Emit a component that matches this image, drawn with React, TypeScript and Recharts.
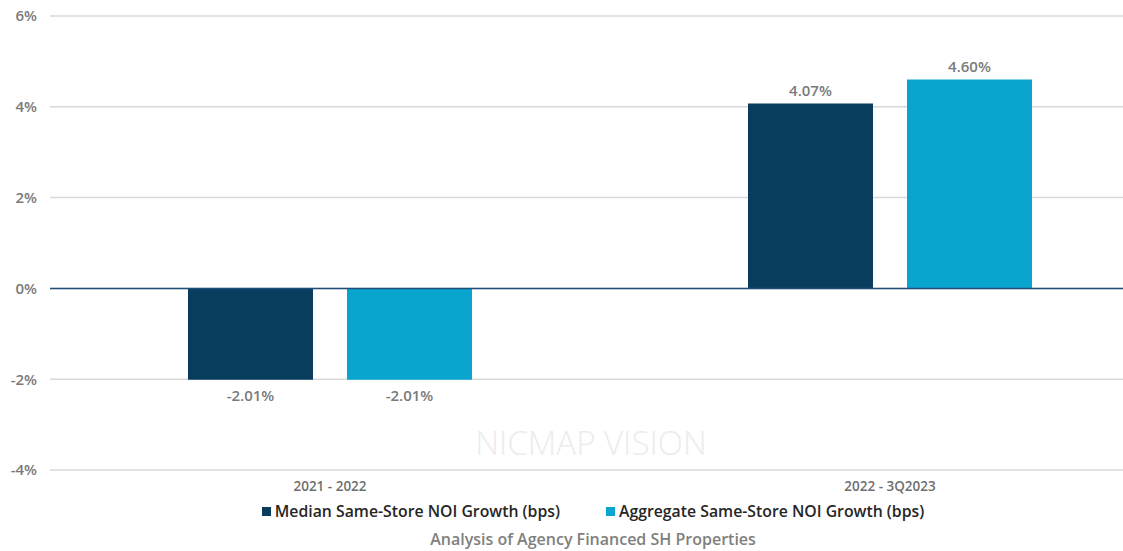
import React from 'react';
import { BarChart, Bar, XAxis, YAxis, CartesianGrid, ReferenceLine, LabelList } from 'recharts';

// periods on the x axis
const periods = ['2021 - 2022', '2022 - 3Q2023'];
// NOI growth in percent
const medianGrowth = [-2.01, 4.07];
const aggregateGrowth = [-2.01, 4.6];
const yTicks = [-4, -2, 0, 2, 4, 6];

const seriesNames = ['Median Same-Store NOI Growth (bps)', 'Aggregate Same-Store NOI Growth (bps)'];
const DARK = '#083D5E';
const LIGHT = '#0AA5CF';
const FONT = '"Open Sans", "Noto Sans", sans-serif';

const data = periods.map((p, i) => ({
  period: p,
  median: medianGrowth[i],
  aggregate: aggregateGrowth[i],
}));

// value label above positive bars, below negative ones
const ValueLabel = (props: any) => {
  const { x, y, width, height, value } = props;
  const top = Math.min(y, y + height);
  const bottom = Math.max(y, y + height);
  const ty = value >= 0 ? top - 8 : bottom + 21;
  return (
    <text x={x + width / 2} y={ty} textAnchor="middle" fill="#7a7a7a" fontSize={15} fontWeight={600} fontFamily={FONT}>
      {value.toFixed(2)}%
    </text>
  );
};

export default function App() {
  return (
    <div style={{ position: 'fixed', left: 0, top: 0, width: 1123, height: 551, overflow: 'hidden', background: '#fff', fontFamily: FONT }}>
      {/* watermark */}
      <div style={{ position: 'absolute', left: 441, top: 420, width: 300, textAlign: 'center', fontSize: 33, fontWeight: 300, color: '#ececec', whiteSpace: 'nowrap' }}>
        NICMAP VISION
      </div>

      <BarChart
        width={1170}
        height={551}
        data={data}
        margin={{ top: 16, right: 0, bottom: 51, left: 0 }}
        barSize={125}
        barGap={34}
      >
        <CartesianGrid vertical={false} stroke="#d9d9d9" strokeWidth={1.5} />
        <XAxis
          dataKey="period"
          axisLine={false}
          tickLine={false}
          tickMargin={5}
          height={30}
          tick={{ fill: '#6f6f6f', fontSize: 13.5, fontFamily: FONT, fontWeight: 600 }}
        />
        <YAxis
          domain={[-4, 6]}
          ticks={yTicks}
          width={50}
          axisLine={false}
          tickLine={false}
          tickMargin={7}
          tickFormatter={(v: number) => `${v}%`}
          tick={{ fill: '#7a7a7a', fontSize: 15, fontFamily: FONT, fontWeight: 600 }}
        />
        <ReferenceLine y={0} stroke="#1f4e79" strokeWidth={1.5} />
        <Bar dataKey="median" name={seriesNames[0]} fill={DARK} isAnimationActive={false}>
          <LabelList dataKey="median" content={ValueLabel} />
        </Bar>
        <Bar dataKey="aggregate" name={seriesNames[1]} fill={LIGHT} isAnimationActive={false}>
          <LabelList dataKey="aggregate" content={ValueLabel} />
        </Bar>
      </BarChart>

      {/* legend */}
      <div style={{ position: 'absolute', left: 0, top: 500, width: 1186, display: 'flex', justifyContent: 'center', fontSize: 15.8, fontWeight: 600, color: '#262626', whiteSpace: 'nowrap' }}>
        {seriesNames.map((n, i) => (
          <span key={n} style={{ display: 'inline-flex', alignItems: 'center', marginRight: i === 0 ? 46 : 0 }}>
            <span style={{ display: 'inline-block', width: 9, height: 9, background: i === 0 ? DARK : LIGHT, marginRight: 4 }} />
            {n}
          </span>
        ))}
      </div>

      {/* chart title */}
      <div style={{ position: 'absolute', left: 0, top: 528, width: 1186, textAlign: 'center', fontSize: 16, fontWeight: 600, color: '#808080', whiteSpace: 'nowrap' }}>
        Analysis of Agency Financed SH Properties
      </div>
    </div>
  );
}
